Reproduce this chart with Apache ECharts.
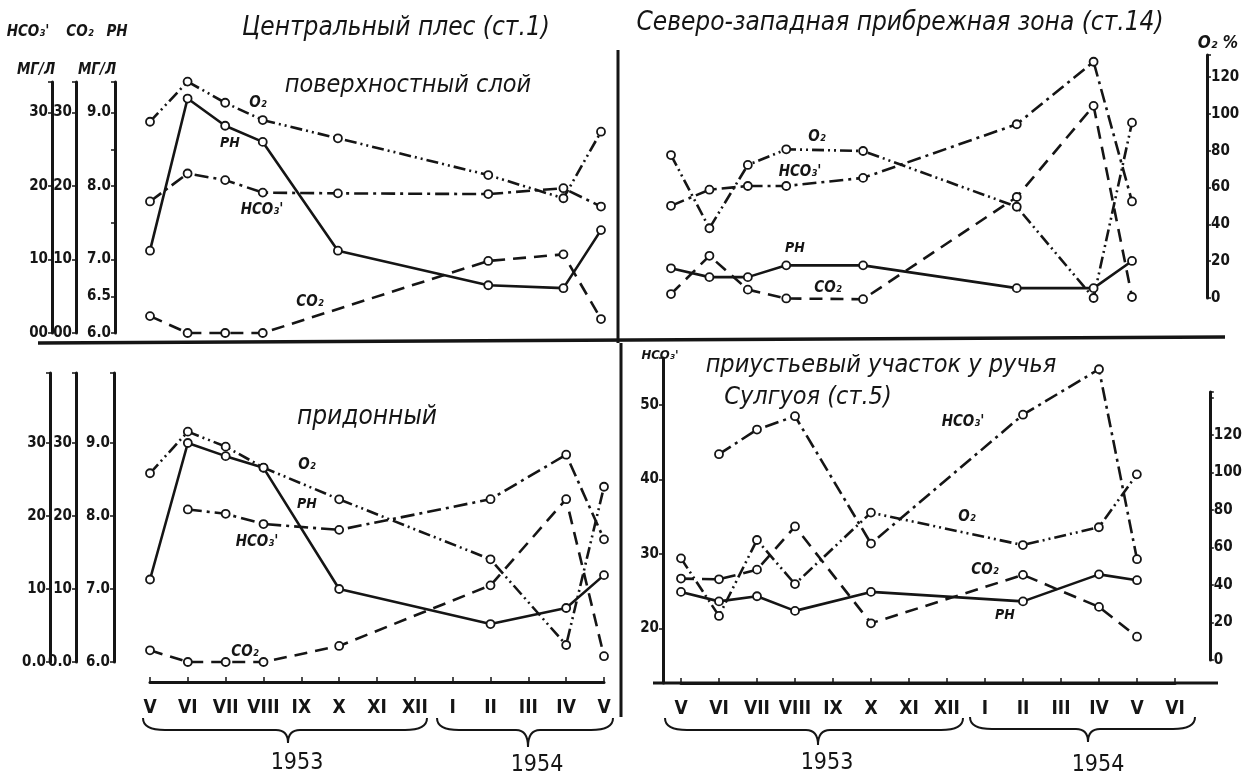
<!DOCTYPE html>
<html>
<head>
<meta charset="utf-8">
<title>Гидрохимия</title>
<script src="https://cdn.jsdelivr.net/npm/echarts/dist/echarts.min.js"></script>
<style>
html, body { margin: 0; padding: 0; background: #fff; }
#main { width: 1245px; height: 779px; }
</style>
</head>
<body>
<div id="main"></div>
<script>
// месяцы
var monthsL = ['V', 'VI', 'VII', 'VIII', 'IX', 'X', 'XI', 'XII', 'I', 'II', 'III', 'IV', 'V'];
var monthsR = ['V', 'VI', 'VII', 'VIII', 'IX', 'X', 'XI', 'XII', 'I', 'II', 'III', 'IV', 'V', 'VI'];

// Центральный плес (ст.1), поверхностный слой
var ph1   = [7.12, 9.19, 8.82, 8.60, null, 7.12, null, null, null, 6.65, null, 6.61, 7.40];
var o2_1  = [95.8, 117.6, 106.1, 96.7, null, 86.8, null, null, null, 66.8, null, 54.2, 90.4];
var hco3_1 = [17.9, 21.7, 20.8, 19.1, null, 19.0, null, null, null, 18.9, null, 19.7, 17.2];
var co2_1 = [2.3, 0, 0, 0, null, null, null, null, null, 9.8, null, 10.7, 1.9];

// Северо-западная прибрежная зона (ст.14)
var ph2   = [6.88, 6.76, 6.76, 6.92, null, 6.92, null, null, null, 6.61, null, 6.61, 6.98];
var o2_2  = [77.7, 37.9, 72.3, 80.8, null, 79.9, null, null, null, 49.6, null, 0, 95.3];
var hco3_2 = [17.3, 19.5, 20.0, 20.0, null, 21.1, null, null, null, 28.4, null, 36.9, 17.9];
var co2_2 = [5.3, 10.5, 5.9, 4.7, null, 4.6, null, null, null, 18.5, null, 30.9, 4.9];

// Центральный плес, придонный слой
var ph3   = [7.13, 9.0, 8.82, 8.66, null, 7.0, null, null, null, 6.52, null, 6.74, 7.19];
var o2_3  = [99.6, 121.8, 113.8, 102.6, null, 85.7, null, null, null, 53.7, null, 8.0, 92.4];
var hco3_3 = [null, 20.9, 20.3, 18.9, null, 18.1, null, null, null, 22.3, null, 28.4, 16.8];
var co2_3 = [1.6, 0, 0, 0, null, 2.2, null, null, null, 10.5, null, 22.3, 0.8];

// приустьевый участок у ручья Сулгуоя (ст.5)
var ph4   = [6.96, 6.83, 6.90, 6.70, null, 6.96, null, null, null, 6.83, null, 7.20, 7.12, null];
var o2_4  = [54.2, 23.5, 64.0, 40.5, null, 78.6, null, null, null, 61.3, null, 70.8, 99.0, null];
var hco3_4 = [null, 43.4, 46.7, 48.5, null, 31.4, null, null, null, 48.7, null, 54.8, 29.3, null];
var co2_4 = [26.7, 26.6, 27.9, 33.7, null, 20.7, null, null, null, 27.2, null, 22.9, 18.9, null];

var INK = '#151515';
var FONT = '"Liberation Sans Narrow", "DejaVu Sans Condensed", sans-serif';

// типы линий
var DASH_O2 = [12, 4, 2, 4, 2, 4];
var DASH_HCO3 = [14, 5, 3, 5];
var DASH_CO2 = [13, 8];

function lineSeries(name, data, xi, yi, dash) {
    return {
        name: name,
        type: 'line',
        xAxisIndex: xi,
        yAxisIndex: yi,
        data: data,
        connectNulls: true,
        clip: false,
        symbol: 'circle',
        symbolSize: 8,
        lineStyle: { color: INK, width: 2.6, type: dash },
        itemStyle: { color: '#fff', borderColor: INK, borderWidth: 1.8 },
        z: 3
    };
}

function fmtMg(zero) {
    return function (v) {
        if (v === 0) return zero;
        return (Math.abs(v % 10) < 1e-6) ? String(Math.round(v)) : '';
    };
}

function yVis(grid, pos, offset, min, max, interval, fmt, split) {
    var ax = {
        type: 'value', gridIndex: grid, position: pos, offset: offset,
        min: min, max: max,
        axisLine: { show: true, onZero: false, lineStyle: { color: INK, width: 3 } },
        axisTick: { show: true, length: 4, lineStyle: { color: INK, width: 1.5 } },
        axisLabel: { color: INK, fontFamily: FONT, fontWeight: 'bold', fontSize: 15, margin: 4, formatter: fmt },
        splitLine: { show: false }
    };
    if (interval) ax.interval = interval;
    if (split) ax.splitNumber = split;
    return ax;
}

function yHid(grid, min, max) {
    return { type: 'value', gridIndex: grid, min: min, max: max, show: false, splitLine: { show: false } };
}

function xAx(grid, cats, show, offset) {
    return {
        type: 'category', gridIndex: grid, data: cats, boundaryGap: false,
        show: show, position: 'bottom', offset: offset || 0,
        axisLine: { onZero: false, lineStyle: { color: INK, width: 3 } },
        axisTick: { inside: true, length: 5, alignWithLabel: true, lineStyle: { color: INK, width: 1.5 } },
        axisLabel: { color: INK, fontFamily: FONT, fontWeight: 'bold', fontSize: 19, margin: 17, interval: 0 },
        splitLine: { show: false }
    };
}

function label(x, y, s, size, style, weight) {
    return {
        type: 'text', x: x, y: y, z: 10,
        style: {
            text: s, fill: INK, fontSize: size, fontFamily: FONT,
            fontStyle: style || 'normal', fontWeight: weight || 'normal',
            textAlign: 'center', textVerticalAlign: 'middle', align: 'center', verticalAlign: 'middle'
        }
    };
}

function seg(x1, y1, x2, y2, w) {
    return { type: 'line', z: 1, shape: { x1: x1, y1: y1, x2: x2, y2: y2 }, style: { stroke: INK, lineWidth: w } };
}

function curve(x1, y1, cx, cy, x2, y2) {
    return {
        type: 'bezierCurve', z: 1,
        shape: { x1: x1, y1: y1, cpx1: cx, cpy1: cy, x2: x2, y2: y2 },
        style: { stroke: INK, lineWidth: 2, fill: null }
    };
}

// фигурная скобка под месяцами
function brace(x1, x2, xm, y0, tip) {
    var y1 = y0 + 12;
    return [
        curve(x1, y0, x1, y1, x1 + 22, y1),
        seg(x1 + 22, y1, xm - 12, y1, 2),
        curve(xm - 12, y1, xm, y1, xm, tip),
        curve(xm, tip, xm, y1, xm + 12, y1),
        seg(xm + 12, y1, x2 - 22, y1, 2),
        curve(x2 - 22, y1, x2, y1, x2, y0)
    ];
}

var tit = 'italic';
var graphics = [
    label(396, 28, 'Центральный плес (ст.1)', 26, tit),
    label(900, 23, 'Северо-западная прибрежная зона (ст.14)', 26, tit),
    label(408, 85, 'поверхностный слой', 25, tit),
    label(367, 417, 'придонный', 26, tit),
    label(881, 365, 'приустьевый участок у ручья', 25, tit),
    label(808, 397, 'Сулгуоя (ст.5)', 25, tit),

    label(28, 32, "HCO₃'", 15, tit, 'bold'),
    label(80, 32, 'CO₂', 15, tit, 'bold'),
    label(117, 32, 'PH', 15, tit, 'bold'),
    label(36, 70, 'МГ/Л', 15, tit, 'bold'),
    label(97, 70, 'МГ/Л', 15, tit, 'bold'),
    label(1218, 44, 'O₂ %', 17, tit, 'bold'),
    label(660, 356, "HCO₃'", 13, tit, 'bold'),

    label(258, 103, 'O₂', 15, tit, 'bold'),
    label(230, 143, 'PH', 14, tit, 'bold'),
    label(262, 210, "HCO₃'", 15, tit, 'bold'),
    label(310, 302, 'CO₂', 15, tit, 'bold'),

    label(817, 137, 'O₂', 15, tit, 'bold'),
    label(800, 172, "HCO₃'", 15, tit, 'bold'),
    label(795, 248, 'PH', 14, tit, 'bold'),
    label(828, 288, 'CO₂', 15, tit, 'bold'),

    label(307, 465, 'O₂', 15, tit, 'bold'),
    label(307, 504, 'PH', 14, tit, 'bold'),
    label(257, 542, "HCO₃'", 15, tit, 'bold'),
    label(245, 652, 'CO₂', 15, tit, 'bold'),

    label(963, 422, "HCO₃'", 15, tit, 'bold'),
    label(967, 517, 'O₂', 15, tit, 'bold'),
    label(985, 570, 'CO₂', 15, tit, 'bold'),
    label(1005, 615, 'PH', 14, tit, 'bold'),

    label(297, 763, '1953', 23),
    label(537, 765, '1954', 23),
    label(827, 763, '1953', 23),
    label(1098, 765, '1954', 23),

    // рамки
    seg(38, 343, 1225, 337, 3.5),
    seg(618, 50, 618, 343, 3),
    seg(621, 343, 621, 717, 3),
    seg(653, 683, 1218, 683, 3)
].concat(
    brace(143, 427, 288, 718, 743),
    brace(437, 613, 528, 718, 747),
    brace(665, 963, 818, 718, 745),
    brace(970, 1195, 1088, 717, 742)
);

var phTop = function (v) { return [6, 6.5, 7, 8, 9].indexOf(v) >= 0 ? v.toFixed(1) : ''; };
var phBot = function (v) { return [6, 7, 8, 9].indexOf(v) >= 0 ? v.toFixed(1) : ''; };
var o2Fmt = function (v) { return (v % 20 === 0 && v <= 120) ? String(v) : ''; };

var option = {
    animation: false,
    backgroundColor: '#fff',
    grid: [
        { left: 150, top: 82, width: 451, height: 251 },
        { left: 671, top: 55, width: 461, height: 243 },
        { left: 150, top: 373, width: 454, height: 289 },
        { left: 681, top: 358, width: 494, height: 325 },
        { left: 681, top: 392, width: 494, height: 268 }
    ],
    xAxis: [
        xAx(0, monthsL, false),
        xAx(1, monthsL, false),
        xAx(2, monthsL, true, 20),
        xAx(3, monthsR, true, 0),
        xAx(4, monthsR, false)
    ],
    yAxis: [
        yVis(0, 'left', 98, 0, 34.15, 10, fmtMg('00')),      // 0 HCO3
        yVis(0, 'left', 74, 0, 34.15, 10, fmtMg('00')),      // 1 CO2
        yVis(0, 'left', 35, 6, 9.415, 0.5, phTop),            // 2 pH
        yHid(0, -19.02, 117.39),                               // 3 O2
        yVis(1, 'right', 75, 0, 132.07, 20, o2Fmt),            // 4 O2 %
        yHid(1, 6.476, 9.782),                                 // 5 pH
        yHid(1, 4.762, 37.82),                                 // 6 HCO3, CO2
        yVis(2, 'left', 100, 0, 39.59, 10, fmtMg('0.0')),     // 7 HCO3
        yVis(2, 'left', 74, 0, 39.59, 10, fmtMg('0.0')),      // 8 CO2
        yVis(2, 'left', 36, 6, 9.959, 1, phBot),              // 9 pH
        yHid(2, -1.07, 153.07),                                // 10 O2
        yVis(3, 'left', 18, 12.685, 56.309, null, fmtMg(''), 4), // 11 HCO3, CO2
        yHid(3, 5.712, 10.164),                                // 12 pH
        yVis(4, 'right', 35, 0, 142.93, 20, o2Fmt)            // 13 O2 %
    ],
    series: [
        lineSeries('pH', ph1, 0, 2, 'solid'),
        lineSeries('O2', o2_1, 0, 3, DASH_O2),
        lineSeries('HCO3', hco3_1, 0, 0, DASH_HCO3),
        lineSeries('CO2', co2_1, 0, 1, DASH_CO2),

        lineSeries('pH', ph2, 1, 5, 'solid'),
        lineSeries('O2', o2_2, 1, 4, DASH_O2),
        lineSeries('HCO3', hco3_2, 1, 6, DASH_HCO3),
        lineSeries('CO2', co2_2, 1, 6, DASH_CO2),

        lineSeries('pH', ph3, 2, 9, 'solid'),
        lineSeries('O2', o2_3, 2, 10, DASH_O2),
        lineSeries('HCO3', hco3_3, 2, 7, DASH_HCO3),
        lineSeries('CO2', co2_3, 2, 8, DASH_CO2),

        lineSeries('pH', ph4, 3, 12, 'solid'),
        lineSeries('O2', o2_4, 4, 13, DASH_O2),
        lineSeries('HCO3', hco3_4, 3, 11, DASH_HCO3),
        lineSeries('CO2', co2_4, 3, 11, DASH_CO2)
    ],
    graphic: graphics
};

var chart = echarts.init(document.getElementById('main'));
chart.setOption(option);
</script>
</body>
</html>
